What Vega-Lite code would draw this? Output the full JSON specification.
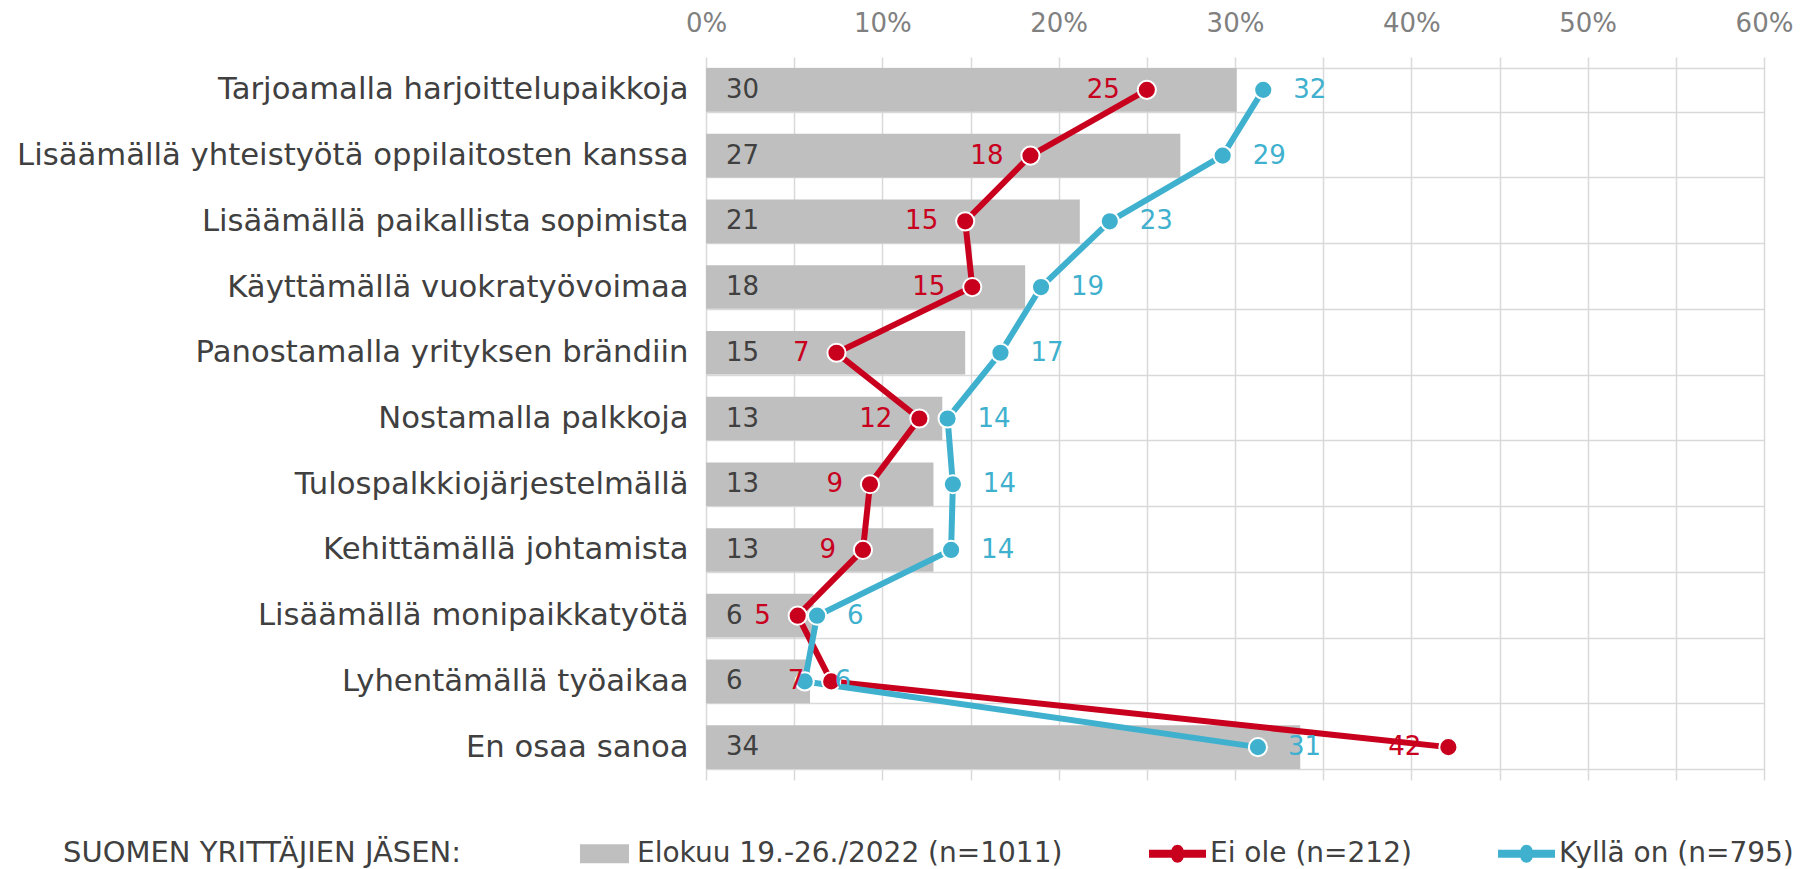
{
  "$schema": "https://vega.github.io/schema/vega-lite/v6.json",
  "width": 1058,
  "height": 723,
  "autosize": {"type": "none"},
  "padding": {"left": 706, "top": 57, "right": 40, "bottom": 89},
  "background": "white",
  "config": {"view": {"stroke": null}, "font": "DejaVu Sans"},
  "data": {
    "values": [
      {"kysymys": "Tarjoamalla harjoittelupaikkoja", "jarj": 1, "sarja": "Elokuu 19.-26./2022 (n=1011)", "arvo": 30.1},
      {"kysymys": "Tarjoamalla harjoittelupaikkoja", "jarj": 1, "sarja": "Ei ole (n=212)", "arvo": 25.0},
      {"kysymys": "Tarjoamalla harjoittelupaikkoja", "jarj": 1, "sarja": "Kyllä on (n=795)", "arvo": 31.6},
      {"kysymys": "Lisäämällä yhteistyötä oppilaitosten kanssa", "jarj": 2, "sarja": "Elokuu 19.-26./2022 (n=1011)", "arvo": 26.9},
      {"kysymys": "Lisäämällä yhteistyötä oppilaitosten kanssa", "jarj": 2, "sarja": "Ei ole (n=212)", "arvo": 18.4},
      {"kysymys": "Lisäämällä yhteistyötä oppilaitosten kanssa", "jarj": 2, "sarja": "Kyllä on (n=795)", "arvo": 29.3},
      {"kysymys": "Lisäämällä paikallista sopimista", "jarj": 3, "sarja": "Elokuu 19.-26./2022 (n=1011)", "arvo": 21.2},
      {"kysymys": "Lisäämällä paikallista sopimista", "jarj": 3, "sarja": "Ei ole (n=212)", "arvo": 14.7},
      {"kysymys": "Lisäämällä paikallista sopimista", "jarj": 3, "sarja": "Kyllä on (n=795)", "arvo": 22.9},
      {"kysymys": "Käyttämällä vuokratyövoimaa", "jarj": 4, "sarja": "Elokuu 19.-26./2022 (n=1011)", "arvo": 18.1},
      {"kysymys": "Käyttämällä vuokratyövoimaa", "jarj": 4, "sarja": "Ei ole (n=212)", "arvo": 15.1},
      {"kysymys": "Käyttämällä vuokratyövoimaa", "jarj": 4, "sarja": "Kyllä on (n=795)", "arvo": 19.0},
      {"kysymys": "Panostamalla yrityksen brändiin", "jarj": 5, "sarja": "Elokuu 19.-26./2022 (n=1011)", "arvo": 14.7},
      {"kysymys": "Panostamalla yrityksen brändiin", "jarj": 5, "sarja": "Ei ole (n=212)", "arvo": 7.4},
      {"kysymys": "Panostamalla yrityksen brändiin", "jarj": 5, "sarja": "Kyllä on (n=795)", "arvo": 16.7},
      {"kysymys": "Nostamalla palkkoja", "jarj": 6, "sarja": "Elokuu 19.-26./2022 (n=1011)", "arvo": 13.4},
      {"kysymys": "Nostamalla palkkoja", "jarj": 6, "sarja": "Ei ole (n=212)", "arvo": 12.1},
      {"kysymys": "Nostamalla palkkoja", "jarj": 6, "sarja": "Kyllä on (n=795)", "arvo": 13.7},
      {"kysymys": "Tulospalkkiojärjestelmällä", "jarj": 7, "sarja": "Elokuu 19.-26./2022 (n=1011)", "arvo": 12.9},
      {"kysymys": "Tulospalkkiojärjestelmällä", "jarj": 7, "sarja": "Ei ole (n=212)", "arvo": 9.3},
      {"kysymys": "Tulospalkkiojärjestelmällä", "jarj": 7, "sarja": "Kyllä on (n=795)", "arvo": 14.0},
      {"kysymys": "Kehittämällä johtamista", "jarj": 8, "sarja": "Elokuu 19.-26./2022 (n=1011)", "arvo": 12.9},
      {"kysymys": "Kehittämällä johtamista", "jarj": 8, "sarja": "Ei ole (n=212)", "arvo": 8.9},
      {"kysymys": "Kehittämällä johtamista", "jarj": 8, "sarja": "Kyllä on (n=795)", "arvo": 13.9},
      {"kysymys": "Lisäämällä monipaikkatyötä", "jarj": 9, "sarja": "Elokuu 19.-26./2022 (n=1011)", "arvo": 6.1},
      {"kysymys": "Lisäämällä monipaikkatyötä", "jarj": 9, "sarja": "Ei ole (n=212)", "arvo": 5.2},
      {"kysymys": "Lisäämällä monipaikkatyötä", "jarj": 9, "sarja": "Kyllä on (n=795)", "arvo": 6.3},
      {"kysymys": "Lyhentämällä työaikaa", "jarj": 10, "sarja": "Elokuu 19.-26./2022 (n=1011)", "arvo": 5.9},
      {"kysymys": "Lyhentämällä työaikaa", "jarj": 10, "sarja": "Ei ole (n=212)", "arvo": 7.1},
      {"kysymys": "Lyhentämällä työaikaa", "jarj": 10, "sarja": "Kyllä on (n=795)", "arvo": 5.6},
      {"kysymys": "En osaa sanoa", "jarj": 11, "sarja": "Elokuu 19.-26./2022 (n=1011)", "arvo": 33.7},
      {"kysymys": "En osaa sanoa", "jarj": 11, "sarja": "Ei ole (n=212)", "arvo": 42.1},
      {"kysymys": "En osaa sanoa", "jarj": 11, "sarja": "Kyllä on (n=795)", "arvo": 31.3}
    ]
  },
  "encoding": {
    "y": {
      "field": "kysymys",
      "type": "nominal",
      "sort": ["Tarjoamalla harjoittelupaikkoja", "Lisäämällä yhteistyötä oppilaitosten kanssa", "Lisäämällä paikallista sopimista", "Käyttämällä vuokratyövoimaa", "Panostamalla yrityksen brändiin", "Nostamalla palkkoja", "Tulospalkkiojärjestelmällä", "Kehittämällä johtamista", "Lisäämällä monipaikkatyötä", "Lyhentämällä työaikaa", "En osaa sanoa"],
      "scale": {"paddingInner": 0.336, "paddingOuter": 0.168},
      "axis": {
        "title": null,
        "labelFont": "DejaVu Sans",
        "labelFontSize": 30.7,
        "labelColor": "#404040",
        "labelPadding": 18,
        "labelLimit": 900,
        "ticks": false,
        "domain": false,
        "grid": true,
        "gridColor": "#D9D9D9",
        "gridWidth": 1.5,
        "tickBand": "extent"
      }
    }
  },
  "layer": [
    {
      "transform": [{"filter": "datum.sarja === 'Elokuu 19.-26./2022 (n=1011)'"}],
      "mark": {"type": "bar"},
      "encoding": {
        "x": {
          "field": "arvo",
          "type": "quantitative",
          "scale": {"domain": [0, 60], "nice": false},
          "axis": {
            "orient": "top",
            "title": null,
            "values": [0, 5, 10, 15, 20, 25, 30, 35, 40, 45, 50, 55, 60],
            "labelExpr": "datum.value % 10 === 0 ? datum.value + '%' : ''",
            "labelFont": "DejaVu Sans",
            "labelFontSize": 26,
            "labelColor": "#808080",
            "labelPadding": 21,
            "labelFlush": false,
            "labelOverlap": false,
            "ticks": false,
            "domain": false,
            "grid": true,
            "gridColor": "#D9D9D9",
            "gridWidth": 1.5
          }
        },
        "color": {
          "field": "sarja",
          "type": "nominal",
          "scale": {"domain": ["Elokuu 19.-26./2022 (n=1011)", "Ei ole (n=212)", "Kyllä on (n=795)"], "range": ["#BFBFBF", "#C8001E", "#3FB1CE"]},
          "legend": {
            "orient": "none",
            "legendX": -643,
            "legendY": 768,
            "direction": "horizontal",
            "title": "SUOMEN YRITTÄJIEN JÄSEN:",
            "titleOrient": "left",
            "titleFont": "DejaVu Sans",
            "titleFontSize": 29,
            "titleFontWeight": "normal",
            "titleColor": "#404040",
            "titlePadding": 114,
            "titleLimit": 900,
            "titleBaseline": "middle",
            "labelFont": "DejaVu Sans",
            "labelFontSize": 28,
            "labelColor": "#404040",
            "labelLimit": 900,
            "labelOffset": 4,
            "columnPadding": 86,
            "symbolSize": 3249,
            "symbolStrokeWidth": 0,
            "padding": 0,
            "encoding": {
              "title": {
                "dy": {"value": 7}
              },
              "symbols": {
                "shape": {"value": {"expr": "datum.value === 'Elokuu 19.-26./2022 (n=1011)' ? 'M-0.86,-0.33H0.86V0.33H-0.86Z' : 'M-1,-0.14H-0.21L-0.19,-0.2L-0.11,-0.29L0,-0.32L0.11,-0.29L0.19,-0.2L0.21,-0.14H1V0.14H0.21L0.19,0.2L0.11,0.29L0,0.32L-0.11,0.29L-0.19,0.2L-0.21,0.14H-1Z'"}},
                "strokeWidth": {"value": 0},
                "opacity": {"value": 1},
                "fillOpacity": {"value": 1}
              }
            }
          }
        }
      }
    },
    {
      "transform": [{"filter": "datum.sarja === 'Elokuu 19.-26./2022 (n=1011)'"}],
      "mark": {"type": "text", "align": "left", "baseline": "middle", "dx": 20, "fontSize": 26, "color": "#404040", "font": "DejaVu Sans"},
      "encoding": {
        "x": {"datum": 0, "type": "quantitative"},
        "text": {"field": "arvo", "type": "quantitative", "format": ".0f"}
      }
    },
    {
      "transform": [{"filter": "datum.sarja !== 'Elokuu 19.-26./2022 (n=1011)'"}],
      "mark": {"type": "line", "strokeWidth": 6},
      "encoding": {
        "x": {"field": "arvo", "type": "quantitative"},
        "color": {"field": "sarja", "type": "nominal"},
        "order": {"field": "jarj", "type": "quantitative"}
      }
    },
    {
      "transform": [{"filter": "datum.sarja !== 'Elokuu 19.-26./2022 (n=1011)'"}],
      "mark": {"type": "point", "filled": true, "size": 330, "stroke": "white", "strokeWidth": 2, "opacity": 1},
      "encoding": {
        "x": {"field": "arvo", "type": "quantitative"},
        "color": {"field": "sarja", "type": "nominal"}
      }
    },
    {
      "transform": [{"filter": "datum.sarja === 'Ei ole (n=212)'"}],
      "mark": {"type": "text", "align": "right", "baseline": "middle", "dx": -27, "fontSize": 26, "color": "#C8001E", "font": "DejaVu Sans"},
      "encoding": {
        "x": {"field": "arvo", "type": "quantitative"},
        "text": {"field": "arvo", "type": "quantitative", "format": ".0f"}
      }
    },
    {
      "transform": [{"filter": "datum.sarja === 'Kyllä on (n=795)'"}],
      "mark": {"type": "text", "align": "left", "baseline": "middle", "dx": 30, "fontSize": 26, "color": "#3FB1CE", "font": "DejaVu Sans"},
      "encoding": {
        "x": {"field": "arvo", "type": "quantitative"},
        "text": {"field": "arvo", "type": "quantitative", "format": ".0f"}
      }
    }
  ]
}
